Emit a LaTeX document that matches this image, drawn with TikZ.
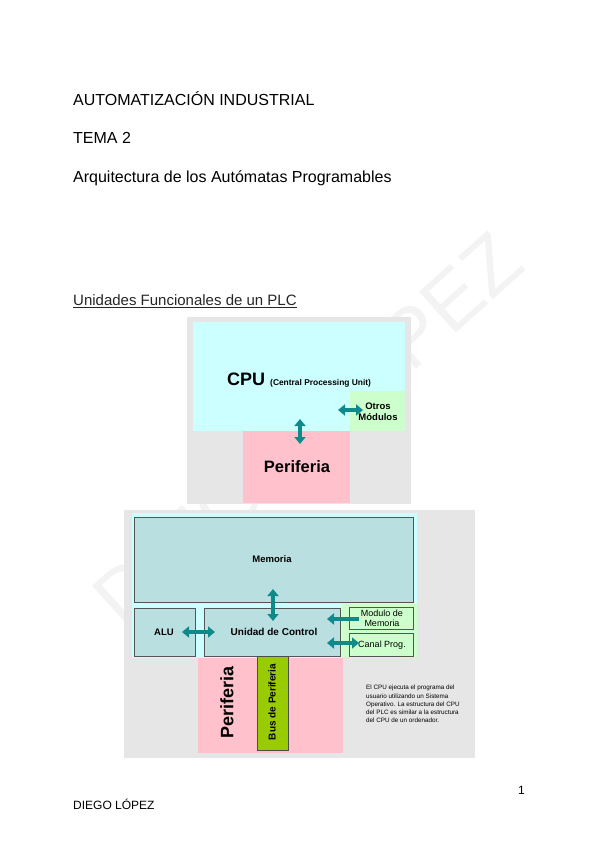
\documentclass[tikz,border=0pt]{standalone}
\usepackage{fontspec}
\setmainfont{Liberation Sans}
\usetikzlibrary{arrows.meta,calc}
\definecolor{bggray}{HTML}{E6E6E6}
\definecolor{cpucyan}{HTML}{CCFFFF}
\definecolor{perpink}{HTML}{FFC2CC}
\definecolor{modgreen}{HTML}{CCFFCC}
\definecolor{memteal}{HTML}{BADFE0}
\definecolor{busgreen}{HTML}{99CC00}
\definecolor{arrteal}{HTML}{0E8A8A}
\definecolor{wmgray}{HTML}{F3F3F3}
\definecolor{boxline}{HTML}{555555}
\begin{document}
\begin{tikzpicture}[x=1pt,y=-1pt,
  area/.style={inner sep=0pt, outer sep=0pt, anchor=north west},
  framed/.style={area, draw=boxline, line width=0.9pt},
  lbl/.style={inner sep=0pt, outer sep=0pt, align=center},
  title/.style={inner sep=0pt, anchor=base west, font=\fontsize{16}{19}\selectfont},
  dblarrow/.style={arrteal, line width=3.4pt, {Triangle[length=7pt,width=11pt]}-{Triangle[length=7pt,width=11pt]}},
  sglarrow/.style={arrteal, line width=3.4pt, {Triangle[length=7pt,width=11pt]}-}
]
\useasboundingbox (0,0) rectangle (600,848);
\fill[white] (0,0) rectangle (600,848);

% watermark
\node[rotate=42, text=wmgray, inner sep=0pt, font=\fontsize{80}{80}\selectfont] (wm) at (303,425) {DIEGO LÓPEZ};

% titles
\node[title] (t1) at (73,106) {AUTOMATIZACIÓN INDUSTRIAL};
\node[title] (t2) at (73,143) {TEMA 2};
\node[title] (t3) at (73,182) {Arquitectura de los Autómatas Programables};
\node[title, font=\fontsize{15}{18}\selectfont, text=black!85] (t4) at (73,305) {Unidades Funcionales de un PLC};
\draw[line width=0.6pt, black!85] ($(t4.base west)+(0,2.5)$) -- ($(t4.base east)+(0,2.5)$);

% ---------- diagram 1 ----------
\node[area, fill=bggray, minimum width=224pt, minimum height=187pt] (g1) at (187,317) {};
\node[area, fill=cpucyan, minimum width=212pt, minimum height=109pt] (cpu) at (193,322) {};
\node[area, fill=modgreen, minimum width=55pt, minimum height=40pt] (otros) at (350,391) {};
\node[area, fill=perpink, minimum width=107pt, minimum height=72pt] (per1) at (243,431) {};

\node[inner sep=0pt, anchor=base west] (cpulbl) at (227,385)
  {\fontsize{18}{18}\selectfont\bfseries CPU \fontsize{8.4}{8.4}\selectfont(Central Processing Unit)};
\node[lbl, font=\fontsize{9.5}{11}\selectfont\bfseries] (otroslbl) at (378,412) {Otros\\Módulos};
\node[lbl, font=\fontsize{16.5}{16.5}\selectfont\bfseries] (per1lbl) at (297,467) {Periferia};

\coordinate (a1) at (338,410);
\coordinate (a2) at (363,410);
\draw[dblarrow] (a1) -- (a2);
\coordinate (a3) at (300,419);
\coordinate (a4) at (300,444);
\draw[dblarrow] (a3) -- (a4);

% ---------- diagram 2 ----------
\node[area, fill=bggray, minimum width=351pt, minimum height=248pt] (g2) at (124,510) {};
\node[area, fill=cpucyan, minimum width=285pt, minimum height=145pt] (cpu2) at (132,513) {};
\node[area, fill=modgreen, minimum width=75pt, minimum height=54pt] (grn2) at (342,604) {};
\node[area, fill=perpink, minimum width=145pt, minimum height=95pt] (per2) at (198,658) {};

\node[framed, fill=memteal, minimum width=279pt, minimum height=85pt] (mem) at (134,517) {};
\node[framed, fill=memteal, minimum width=61pt, minimum height=48pt] (alu) at (134,608) {};
\node[framed, fill=memteal, minimum width=136pt, minimum height=48pt] (uc) at (204,608) {};
\node[framed, fill=modgreen, minimum width=64pt, minimum height=22pt] (modm) at (349,607) {};
\node[framed, fill=modgreen, minimum width=64pt, minimum height=23pt] (canal) at (349,633) {};
\node[area, fill=busgreen, draw=black!70, line width=0.9pt, minimum width=31pt, minimum height=94pt] (bus) at (257,656) {};

\node[lbl, font=\fontsize{9.5}{11}\selectfont\bfseries] (memlbl) at (272,559) {Memoria};
\node[lbl, font=\fontsize{9.5}{11}\selectfont\bfseries] (alulbl) at (164,632) {ALU};
\node[lbl, font=\fontsize{10}{11}\selectfont\bfseries] (uclbl) at (274,632) {Unidad de Control};
\node[lbl, font=\fontsize{9}{10}\selectfont] (modlbl) at (382,618) {Modulo de\\Memoria};
\node[lbl, font=\fontsize{9}{10}\selectfont] (canlbl) at (382,645) {Canal Prog.};
\node[lbl, rotate=90, font=\fontsize{18}{18}\selectfont\bfseries] (per2lbl) at (227,702) {Periferia};
\node[lbl, rotate=90, font=\fontsize{10}{10}\selectfont\bfseries] (buslbl) at (272,702) {Bus de Periferia};

\node[inner sep=0pt, anchor=north west, align=left, font=\fontsize{6.3}{8.3}\selectfont] (desc) at (366,685)
  {El CPU ejecuta el programa del\\usuario utilizando un Sistema\\Operativo. La estructura del CPU\\del PLC es similar a la estructura\\del CPU de un ordenador.};

\coordinate (b1) at (273,589);
\coordinate (b2) at (273,621);
\draw[dblarrow] (b1) -- (b2);
\coordinate (b3) at (182,632);
\coordinate (b4) at (215,632);
\draw[dblarrow] (b3) -- (b4);
\coordinate (b5) at (327,619);
\coordinate (b6) at (359,619);
\draw[sglarrow] (b5) -- (b6);
\coordinate (b7) at (327,643);
\coordinate (b8) at (359,643);
\draw[dblarrow] (b7) -- (b8);

% footer
\node[inner sep=0pt, anchor=base west, font=\fontsize{12}{14}\selectfont] (pg) at (518,794) {1};
\node[inner sep=0pt, anchor=base west, font=\fontsize{12}{14}\selectfont] (author) at (73,809) {DIEGO LÓPEZ};
\end{tikzpicture}
\end{document}
